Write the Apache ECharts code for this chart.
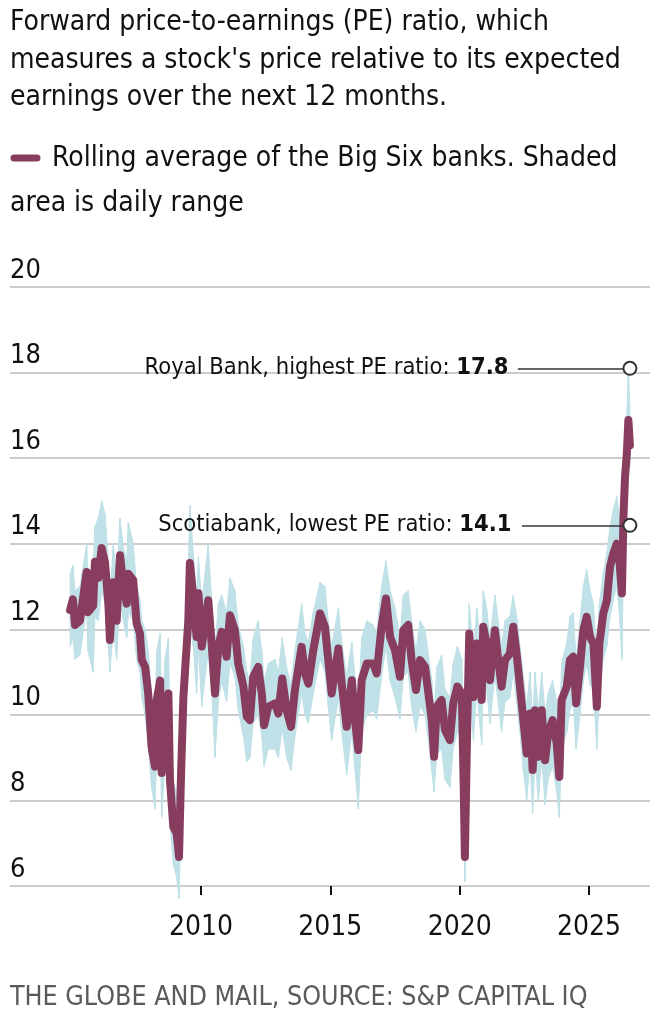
<!DOCTYPE html>
<html>
<head>
<meta charset="utf-8">
<script src="https://cdn.jsdelivr.net/npm/echarts@6/dist/echarts.min.js"></script>
<style>
  html, body { margin: 0; padding: 0; background: #fff; }
  #chart { width: 660px; height: 1022px; }
</style>
</head>
<body>
<div id="chart"></div>
<script>
// decimal years
const dates = [
  2004.94, 2005.05, 2005.13, 2005.32, 2005.58, 2005.63, 2005.83, 2005.90, 2006.03, 2006.16,
  2006.29, 2006.42, 2006.48, 2006.61, 2006.74, 2006.87, 2007.00, 2007.13, 2007.19, 2007.38,
  2007.51, 2007.64, 2007.71, 2007.84, 2007.96, 2008.09, 2008.22, 2008.29, 2008.42, 2008.48,
  2008.61, 2008.74, 2008.80, 2008.93, 2009.06, 2009.15, 2009.23, 2009.32, 2009.41, 2009.51,
  2009.57, 2009.70, 2009.83, 2009.90, 2010.03, 2010.28, 2010.41, 2010.54, 2010.67, 2010.80,
  2010.99, 2011.12, 2011.31, 2011.44, 2011.64, 2011.77, 2011.89, 2012.02, 2012.21, 2012.35,
  2012.44, 2012.60, 2012.86, 2012.99, 2013.14, 2013.31, 2013.48, 2013.63, 2013.89, 2014.02,
  2014.15, 2014.34, 2014.60, 2014.79, 2014.92, 2015.05, 2015.31, 2015.44, 2015.63, 2015.83,
  2015.95, 2016.08, 2016.21, 2016.41, 2016.66, 2016.79, 2016.98, 2017.15, 2017.31, 2017.50,
  2017.69, 2017.82, 2018.01, 2018.14, 2018.31, 2018.47, 2018.66, 2018.79, 2018.92, 2019.01,
  2019.11, 2019.30, 2019.43, 2019.62, 2019.75, 2019.91, 2020.08, 2020.15, 2020.20, 2020.29,
  2020.37, 2020.53, 2020.66, 2020.85, 2020.91, 2021.04, 2021.17, 2021.36, 2021.49, 2021.62,
  2021.75, 2021.94, 2022.07, 2022.20, 2022.33, 2022.46, 2022.59, 2022.72, 2022.82, 2022.91,
  2023.04, 2023.17, 2023.30, 2023.42, 2023.59, 2023.75, 2023.85, 2023.94, 2024.14, 2024.26,
  2024.39, 2024.50, 2024.65, 2024.78, 2024.91, 2025.04, 2025.17, 2025.30, 2025.40, 2025.55,
  2025.69, 2025.81, 2025.94, 2026.07, 2026.17, 2026.27, 2026.33, 2026.39, 2026.46, 2026.52,
  2026.58
];

// rolling average of the Big Six
const avgPE = [
  12.45, 12.7, 12.1, 12.2, 13.34, 12.4, 12.55, 13.58, 13.2, 13.9,
  13.55, 12.6, 11.75, 13.1, 12.2, 13.73, 13.0, 12.6, 13.3, 13.15,
  12.14, 11.9, 11.28, 11.12, 10.5, 9.25, 8.79, 10.35, 10.8, 8.64,
  10.03, 10.5, 8.48, 7.38, 7.23, 6.68, 8.64, 10.42, 11.28, 12.21,
  13.55, 12.76, 11.82, 12.84, 11.6, 12.68, 11.68, 10.5, 11.59, 11.94,
  11.36, 12.33, 11.98, 11.2, 10.66, 9.96, 9.88, 10.89, 11.12, 10.5,
  9.76, 10.19, 10.27, 10.03, 10.85, 10.11, 9.72, 10.58, 11.59, 10.97,
  10.73, 11.51, 12.37, 12.06, 11.28, 10.5, 11.55, 10.73, 9.72, 10.81,
  9.88, 9.18, 10.81, 11.2, 11.2, 10.97, 12.06, 12.72, 11.82, 11.51,
  10.89, 11.98, 12.1, 11.28, 10.58, 11.28, 11.12, 10.5, 9.88, 9.02,
  10.19, 10.35, 9.65, 9.41, 10.27, 10.66, 10.5, 8.5, 6.68, 9.72,
  11.9, 10.42, 11.67, 10.35, 12.06, 11.67, 10.81, 11.98, 11.28, 10.66,
  11.28, 11.43, 12.06, 11.43, 10.66, 9.88, 9.1, 10.03, 8.71, 10.11,
  9.02, 10.11, 8.94, 9.57, 9.88, 9.33, 8.55, 10.35, 10.66, 11.28,
  11.36, 10.27, 11.12, 11.98, 12.29, 11.82, 11.67, 10.19, 11.67, 12.37,
  12.68, 13.46, 13.77, 14.0, 13.62, 12.84, 14.63, 15.56, 16.1, 16.89,
  16.3
];

// daily range, low and high
const lowPE = [
  11.6, 11.8, 11.3, 11.4, 12.5, 11.5, 11.0, 12.3, 12.2, 12.9,
  12.6, 11.6, 11.0, 12.0, 11.3, 12.7, 12.2, 11.8, 12.4, 12.2,
  11.3, 11.0, 10.4, 10.0, 9.3, 8.3, 7.8, 9.2, 9.6, 7.6,
  8.9, 9.3, 7.5, 6.5, 6.2, 5.7, 7.6, 9.4, 10.2, 11.2,
  12.4, 11.6, 10.5, 11.6, 10.2, 11.5, 10.6, 9.0, 10.3, 10.8,
  10.3, 11.2, 10.9, 10.1, 9.5, 8.9, 9.0, 9.8, 10.0, 9.5,
  8.8, 9.2, 9.2, 9.0, 9.7, 9.0, 8.7, 9.5, 10.5, 10.0,
  9.8, 10.5, 11.3, 11.0, 10.2, 9.4, 10.4, 9.6, 8.6, 9.6,
  8.7, 7.8, 9.6, 10.0, 10.1, 9.9, 10.9, 11.6, 10.8, 10.4,
  9.9, 10.9, 11.0, 10.2, 9.6, 10.2, 10.0, 9.4, 8.7, 8.2,
  9.1, 9.2, 8.5, 8.3, 9.2, 9.6, 9.6, 7.6, 6.1, 8.8,
  10.8, 9.4, 10.6, 9.3, 11.0, 10.6, 9.8, 10.9, 10.3, 9.6,
  10.3, 10.4, 11.0, 10.3, 9.6, 8.7, 8.0, 8.9, 7.7, 9.0,
  8.0, 9.0, 7.9, 8.5, 8.8, 8.2, 7.6, 9.2, 9.6, 10.1,
  10.3, 9.2, 10.0, 10.8, 11.2, 10.7, 10.6, 9.2, 10.6, 11.3,
  11.6, 12.3, 12.7, 13.0, 12.4, 11.3, 13.6, 14.6, 15.2, 16.0,
  15.8
];

const highPE = [
  13.3, 13.5, 12.9, 13.0, 14.0, 13.2, 13.4, 14.4, 14.6, 15.0,
  14.7, 13.6, 12.7, 14.0, 13.2, 14.6, 13.9, 13.6, 14.5, 14.0,
  13.0, 12.7, 12.2, 12.0, 11.5, 10.4, 10.0, 11.5, 11.9, 9.8,
  11.3, 11.8, 9.7, 8.4, 8.2, 7.4, 9.5, 11.4, 12.3, 13.4,
  14.9, 13.8, 12.8, 13.7, 12.6, 14.0, 12.7, 11.5, 12.6, 12.8,
  12.4, 13.2, 12.9, 12.1, 11.6, 11.0, 10.8, 11.8, 12.2, 11.5,
  10.8, 11.2, 11.3, 11.0, 11.8, 11.1, 10.7, 11.5, 12.6, 11.9,
  11.7, 12.4, 13.1, 13.0, 12.2, 11.6, 12.5, 11.7, 10.9, 11.7,
  10.9, 10.2, 11.8, 12.2, 12.1, 11.9, 13.0, 13.6, 12.9, 12.5,
  11.8, 12.8, 12.9, 12.2, 11.5, 12.2, 12.0, 11.4, 10.8, 10.0,
  11.1, 11.4, 10.6, 10.4, 11.2, 11.6, 11.3, 9.6, 7.5, 10.6,
  12.6, 11.4, 12.5, 11.3, 12.9, 12.5, 11.8, 12.8, 12.2, 11.6,
  12.2, 12.3, 12.8, 12.3, 11.6, 10.9, 10.2, 11.0, 9.8, 11.0,
  10.1, 11.0, 10.0, 10.5, 10.8, 10.3, 9.6, 11.2, 11.7, 12.3,
  12.4, 11.3, 12.2, 13.0, 13.4, 12.9, 12.6, 11.3, 12.6, 13.3,
  13.8, 14.4, 14.8, 15.1, 14.6, 13.9, 15.4, 16.3, 17.0, 18.1,
  17.2
];

const yearTicks = [2010, 2015, 2020, 2025];

// annotated points: [year, value as placed in the picture]
const royalHigh = [2026.58, 18.1];
const scotiaLow = [2026.58, 14.43];

const FONT = '"Liberation Sans Narrow", "DejaVu Sans Condensed", "Roboto", sans-serif';
const INK = '#111111';
const LINE = '#883d5f';
const BAND = '#bfe1e7';

const chart = echarts.init(document.getElementById('chart'), null, { renderer: 'canvas' });

// shaded daily range, one quad per step between neighbouring days
function renderBand(params, api) {
  const i = params.dataIndex;
  if (i >= dates.length - 1) return null;
  const pts = [
    api.coord([dates[i], lowPE[i]]),
    api.coord([dates[i], highPE[i]]),
    api.coord([dates[i + 1], highPE[i + 1]]),
    api.coord([dates[i + 1], lowPE[i + 1]])
  ];
  return {
    type: 'polygon',
    shape: { points: pts },
    style: { fill: BAND, stroke: BAND, lineWidth: 1 }
  };
}

const option = {
  backgroundColor: '#ffffff',
  animation: false,
  textStyle: { fontFamily: FONT },
  grid: { left: 10, right: 10, top: 287, bottom: 136, containLabel: false },
  xAxis: {
    type: 'value',
    min: 2002.617,
    max: 2027.356,
    axisLine: { show: false },
    splitLine: { show: false },
    axisTick: {
      show: true,
      customValues: yearTicks,
      length: 9,
      lineStyle: { color: INK, width: 2 }
    },
    axisLabel: {
      customValues: yearTicks,
      formatter: v => String(v),
      color: INK,
      fontSize: 28,
      fontFamily: FONT,
      margin: 28
    }
  },
  yAxis: {
    type: 'value',
    min: 6,
    max: 20,
    interval: 2,
    axisLine: { show: false },
    axisTick: { show: false },
    splitLine: { show: true, lineStyle: { color: '#cccccc', width: 2 } },
    axisLabel: {
      inside: true,
      margin: 0,
      align: 'left',
      verticalAlign: 'bottom',
      padding: [0, 0, 3, 0],
      color: INK,
      fontSize: 27,
      fontFamily: FONT
    }
  },
  series: [
    {
      name: 'Daily range',
      type: 'custom',
      data: dates.map((d, i) => [d, lowPE[i], highPE[i]]),
      encode: { x: 0, y: [1, 2] },
      renderItem: renderBand,
      silent: true,
      clip: false,
      z: 1
    },
    {
      name: 'Rolling average',
      type: 'line',
      data: dates.map((d, i) => [d, avgPE[i]]),
      symbol: 'none',
      silent: true,
      lineStyle: { color: LINE, width: 8, cap: 'round', join: 'round' },
      z: 3,
      markLine: {
        silent: true,
        symbol: ['none', 'none'],
        label: { show: false },
        lineStyle: { color: '#333333', width: 1.5, type: 'solid' },
        data: [
          [{ coord: [2022.25, royalHigh[1]] }, { coord: [2026.35, royalHigh[1]] }],
          [{ coord: [2022.41, scotiaLow[1]] }, { coord: [2026.35, scotiaLow[1]] }]
        ]
      },
      markPoint: {
        silent: true,
        symbol: 'circle',
        symbolSize: 13,
        itemStyle: { color: '#ffffff', borderColor: '#333333', borderWidth: 2 },
        label: {
          show: true,
          position: 'left',
          color: INK,
          fontSize: 23.5,
          fontFamily: FONT,
          rich: {
            n: { fontSize: 23.5, color: INK, fontFamily: FONT },
            b: { fontSize: 23.5, color: INK, fontFamily: FONT, fontWeight: 'bold' }
          }
        },
        data: [
          {
            coord: royalHigh,
            label: { distance: 114, formatter: '{n|Royal Bank, highest PE ratio: }{b|17.8}' }
          },
          {
            coord: scotiaLow,
            label: { distance: 111, formatter: '{n|Scotiabank, lowest PE ratio: }{b|14.1}' }
          }
        ]
      }
    }
  ],
  graphic: [
    { type: 'text', left: 10, top: 9, style: { text: 'Forward price-to-earnings (PE) ratio, which', font: '28px ' + FONT, fill: INK } },
    { type: 'text', left: 10, top: 47, style: { text: "measures a stock's price relative to its expected", font: '28px ' + FONT, fill: INK } },
    { type: 'text', left: 10, top: 84, style: { text: 'earnings over the next 12 months.', font: '28px ' + FONT, fill: INK } },
    {
      type: 'line',
      shape: { x1: 14, y1: 158, x2: 37, y2: 158 },
      style: { stroke: LINE, lineWidth: 7, lineCap: 'round' }
    },
    { type: 'text', left: 52, top: 145, style: { text: 'Rolling average of the Big Six banks. Shaded', font: '28px ' + FONT, fill: INK } },
    { type: 'text', left: 10, top: 190, style: { text: 'area is daily range', font: '28px ' + FONT, fill: INK } },
    { type: 'text', left: 10, top: 985, style: { text: 'THE GLOBE AND MAIL, SOURCE: S&P CAPITAL IQ', font: '26.6px ' + FONT, fill: '#5a5a5a' } }
  ]
};

chart.setOption(option);
</script>
</body>
</html>
